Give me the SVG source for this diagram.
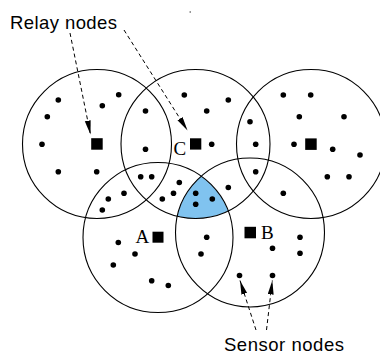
<svg xmlns="http://www.w3.org/2000/svg" width="380" height="354" viewBox="0 0 380 354">
<style>
.rng{fill:none;stroke:#000;stroke-width:1.1}
.relay{fill:#000}
.s{fill:#000}
.lbl{font-family:"Liberation Serif","Times New Roman",serif;font-size:19px;fill:#000}
.cap{font-family:"Liberation Sans",Arial,sans-serif;font-size:18.5px;fill:#000}
.arr{fill:none;stroke:#000;stroke-width:1;stroke-dasharray:4 3;marker-end:url(#ah)}
</style>
<defs>
<marker id="ah" markerUnits="userSpaceOnUse" markerWidth="15" markerHeight="7" refX="14" refY="3" orient="auto">
<path d="M0,0 L14,3 L0,6 Z" fill="#000"/>
</marker>
<clipPath id="clipA"><circle cx="158" cy="237.5" r="75"/></clipPath>
<clipPath id="clipB"><circle cx="250" cy="232.5" r="74.5"/></clipPath>
</defs>
<rect width="380" height="354" fill="#fff"/>
<g id="overlap">
<g clip-path="url(#clipA)"><circle cx="195.5" cy="144" r="74.5" fill="#80c3ef" clip-path="url(#clipB)"/></g>
</g>
<g id="relay1">
<circle class="rng" cx="97" cy="144" r="74.5"/>
<rect class="relay" x="91.2" y="138.2" width="11.5" height="11.5"/>
</g>
<g id="relayC">
<circle class="rng" cx="195.5" cy="144" r="74.5"/>
<rect class="relay" x="190" y="138.3" width="11.3" height="11.3"/>
<text class="lbl" x="173.5" y="155">C</text>
</g>
<g id="relay3">
<circle class="rng" cx="311" cy="144" r="74.5"/>
<rect class="relay" x="305.2" y="138.4" width="11.5" height="11.5"/>
</g>
<g id="relayA">
<circle class="rng" cx="158" cy="237.5" r="75"/>
<rect class="relay" x="152.5" y="231.7" width="11" height="11"/>
<text class="lbl" x="135.5" y="243">A</text>
</g>
<g id="relayB">
<circle class="rng" cx="250" cy="232.5" r="74.5"/>
<rect class="relay" x="244.5" y="226.8" width="11.5" height="11.5"/>
<text class="lbl" x="261" y="238.5">B</text>
</g>
<g id="sensors">
<circle class="s" cx="58.3" cy="100" r="2.8"/>
<circle class="s" cx="118.7" cy="94.7" r="2.8"/>
<circle class="s" cx="102.3" cy="105.7" r="2.8"/>
<circle class="s" cx="47.3" cy="116.7" r="2.8"/>
<circle class="s" cx="42" cy="144.3" r="2.8"/>
<circle class="s" cx="58.3" cy="171.7" r="2.8"/>
<circle class="s" cx="96.7" cy="171.7" r="2.8"/>
<circle class="s" cx="145.5" cy="111" r="2.8"/>
<circle class="s" cx="145.5" cy="149.3" r="2.8"/>
<circle class="s" cx="140.7" cy="176.7" r="2.8"/>
<circle class="s" cx="151.7" cy="176.7" r="2.8"/>
<circle class="s" cx="184.3" cy="95" r="2.8"/>
<circle class="s" cx="228.3" cy="100" r="2.8"/>
<circle class="s" cx="206.7" cy="111" r="2.8"/>
<circle class="s" cx="211.7" cy="144.3" r="2.8"/>
<circle class="s" cx="250" cy="121.7" r="2.8"/>
<circle class="s" cx="255.7" cy="144.3" r="2.8"/>
<circle class="s" cx="255.7" cy="171.7" r="2.8"/>
<circle class="s" cx="179.3" cy="182.5" r="2.8"/>
<circle class="s" cx="228.3" cy="187.5" r="2.8"/>
<circle class="s" cx="283.3" cy="95" r="2.8"/>
<circle class="s" cx="310.7" cy="95" r="2.8"/>
<circle class="s" cx="299.3" cy="116.7" r="2.8"/>
<circle class="s" cx="344" cy="116.7" r="2.8"/>
<circle class="s" cx="294" cy="144.3" r="2.8"/>
<circle class="s" cx="332.7" cy="149.3" r="2.8"/>
<circle class="s" cx="360" cy="155" r="2.8"/>
<circle class="s" cx="327.3" cy="176.7" r="2.8"/>
<circle class="s" cx="349" cy="176.7" r="2.8"/>
<circle class="s" cx="283.3" cy="193.3" r="2.8"/>
<circle class="s" cx="124" cy="193.3" r="2.8"/>
<circle class="s" cx="108.3" cy="199" r="2.8"/>
<circle class="s" cx="102.3" cy="210" r="2.8"/>
<circle class="s" cx="173.5" cy="193.3" r="2.8"/>
<circle class="s" cx="162.3" cy="199" r="2.8"/>
<circle class="s" cx="195.7" cy="193.3" r="2.8"/>
<circle class="s" cx="195.7" cy="204.3" r="2.8"/>
<circle class="s" cx="212.3" cy="199" r="2.8"/>
<circle class="s" cx="118.3" cy="242.5" r="2.8"/>
<circle class="s" cx="135" cy="254" r="2.8"/>
<circle class="s" cx="113.3" cy="265" r="2.8"/>
<circle class="s" cx="151.7" cy="280.7" r="2.8"/>
<circle class="s" cx="168.3" cy="285.5" r="2.8"/>
<circle class="s" cx="206.7" cy="237.3" r="2.8"/>
<circle class="s" cx="201" cy="254" r="2.8"/>
<circle class="s" cx="272.5" cy="248.3" r="2.8"/>
<circle class="s" cx="300" cy="237.3" r="2.8"/>
<circle class="s" cx="300" cy="253.3" r="2.8"/>
<circle class="s" cx="239.5" cy="275.5" r="2.8"/>
<circle class="s" cx="272.5" cy="275.5" r="2.8"/>
</g>
<g id="connectors">
<line class="arr" x1="70" y1="33" x2="90.5" y2="134.5"/>
<line class="arr" x1="124" y1="30" x2="187.5" y2="130.5"/>
<line class="arr" x1="256" y1="330" x2="240" y2="280.5"/>
<line class="arr" x1="266.5" y1="330" x2="272.3" y2="280.5"/>
</g>
<g id="labels">
<text class="cap" x="10" y="29.3" textLength="107" lengthAdjust="spacing">Relay nodes</text>
<text class="cap" x="224" y="351" textLength="120" lengthAdjust="spacing">Sensor nodes</text>
</g>
<rect x="189.5" y="11.5" width="1.5" height="1" fill="#333"/>
</svg>
